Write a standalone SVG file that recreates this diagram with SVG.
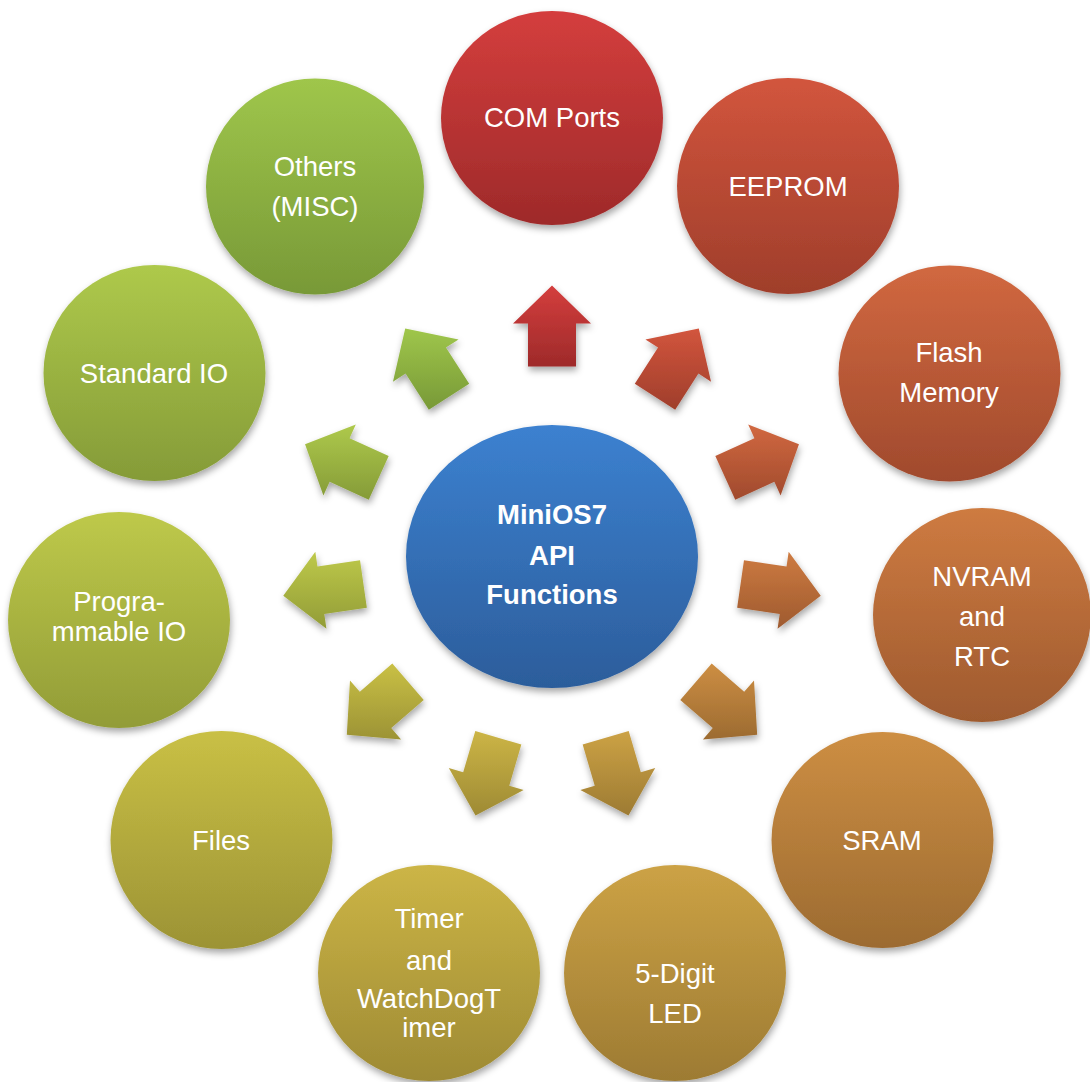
<svg xmlns="http://www.w3.org/2000/svg" width="1090" height="1082" viewBox="0 0 1090 1082">
<style>
text{font-family:"Liberation Sans",Arial,sans-serif;font-size:27.5px;fill:#ffffff;text-anchor:middle}
.b{font-weight:bold}
.sh{filter:url(#ds)}
</style>
<defs>
<filter id="ds" x="-20%" y="-20%" width="140%" height="150%">
<feDropShadow dx="1" dy="4" stdDeviation="3.5" flood-color="#000" flood-opacity="0.35"/>
</filter>
<linearGradient id="g0" x1="0" y1="0" x2="0" y2="1"><stop offset="0" stop-color="#d43e3d"/><stop offset="1" stop-color="#9e2a2a"/></linearGradient>
<linearGradient id="g1" x1="0" y1="0" x2="0" y2="1"><stop offset="0" stop-color="#d2553d"/><stop offset="1" stop-color="#9f3e2b"/></linearGradient>
<linearGradient id="g2" x1="0" y1="0" x2="0" y2="1"><stop offset="0" stop-color="#d16840"/><stop offset="1" stop-color="#a04a2d"/></linearGradient>
<linearGradient id="g3" x1="0" y1="0" x2="0" y2="1"><stop offset="0" stop-color="#ce7b41"/><stop offset="1" stop-color="#9e5a2f"/></linearGradient>
<linearGradient id="g4" x1="0" y1="0" x2="0" y2="1"><stop offset="0" stop-color="#cd8e43"/><stop offset="1" stop-color="#9c6b31"/></linearGradient>
<linearGradient id="g5" x1="0" y1="0" x2="0" y2="1"><stop offset="0" stop-color="#cca245"/><stop offset="1" stop-color="#9d7b33"/></linearGradient>
<linearGradient id="g6" x1="0" y1="0" x2="0" y2="1"><stop offset="0" stop-color="#ccb546"/><stop offset="1" stop-color="#9e8a34"/></linearGradient>
<linearGradient id="g7" x1="0" y1="0" x2="0" y2="1"><stop offset="0" stop-color="#c9c045"/><stop offset="1" stop-color="#9c9335"/></linearGradient>
<linearGradient id="g8" x1="0" y1="0" x2="0" y2="1"><stop offset="0" stop-color="#bec94a"/><stop offset="1" stop-color="#929c37"/></linearGradient>
<linearGradient id="g9" x1="0" y1="0" x2="0" y2="1"><stop offset="0" stop-color="#aec94b"/><stop offset="1" stop-color="#859b38"/></linearGradient>
<linearGradient id="g10" x1="0" y1="0" x2="0" y2="1"><stop offset="0" stop-color="#9fc64b"/><stop offset="1" stop-color="#789937"/></linearGradient>
<linearGradient id="gc" x1="0" y1="0" x2="0" y2="1"><stop offset="0" stop-color="#3c81d0"/><stop offset="1" stop-color="#2c5d9b"/></linearGradient>
</defs>
<rect width="1090" height="1082" fill="#ffffff"/>
<g id="connectors" class="sh">
<polygon fill="url(#g0)" points="552,285.5 591,323.5 576,323.5 576,366.5 528,366.5 528,323.5 513,323.5"/>
<polygon fill="url(#g1)" points="698.79,328.6 711.05,381.65 698.43,373.55 675.18,409.72 634.8,383.76 658.05,347.59 645.43,339.49"/>
<polygon fill="url(#g2)" points="798.96,444.22 780.59,495.48 774.36,481.83 735.25,499.69 715.31,456.03 754.42,438.17 748.19,424.52"/>
<polygon fill="url(#g3)" points="820.74,595.63 777.57,628.83 779.7,613.99 737.14,607.87 743.98,560.35 786.54,566.47 788.67,551.63"/>
<polygon fill="url(#g4)" points="757.19,734.79 702.93,739.38 712.75,728.05 680.25,699.89 711.69,663.61 744.19,691.77 754.01,680.44"/>
<polygon fill="url(#g5)" points="628.49,815.5 580.36,790.03 594.75,785.8 582.64,744.54 628.7,731.02 640.81,772.28 655.2,768.05"/>
<polygon fill="url(#g6)" points="475.51,815.5 448.8,768.05 463.19,772.28 475.3,731.02 521.36,744.54 509.25,785.8 523.64,790.03"/>
<polygon fill="url(#g7)" points="346.81,734.79 401.07,739.38 391.25,728.05 423.75,699.89 392.31,663.61 359.81,691.77 349.99,680.44"/>
<polygon fill="url(#g8)" points="283.26,595.63 326.43,628.83 324.3,613.99 366.86,607.87 360.02,560.35 317.46,566.47 315.33,551.63"/>
<polygon fill="url(#g9)" points="305.04,444.22 323.41,495.48 329.64,481.83 368.75,499.69 388.69,456.03 349.58,438.17 355.81,424.52"/>
<polygon fill="url(#g10)" points="405.21,328.6 392.95,381.65 405.57,373.55 428.82,409.72 469.2,383.76 445.95,347.59 458.57,339.49"/>
</g>
<g id="center">
<ellipse class="sh" cx="552" cy="556.5" rx="146" ry="131.5" fill="url(#gc)"/>
<text class="b" x="552" y="524">MiniOS7</text>
<text class="b" x="552" y="565">API</text>
<text class="b" x="552" y="604">Functions</text>
</g>
<g id="com-ports">
<ellipse class="sh" cx="552" cy="118" rx="111" ry="107" fill="url(#g0)"/>
<text x="552" y="127">COM Ports</text>
</g>
<g id="eeprom">
<ellipse class="sh" cx="788" cy="186" rx="111" ry="108" fill="url(#g1)"/>
<text x="788" y="196">EEPROM</text>
</g>
<g id="flash-memory">
<ellipse class="sh" cx="949.5" cy="373.5" rx="111" ry="108" fill="url(#g2)"/>
<text x="949" y="362">Flash</text>
<text x="949" y="402">Memory</text>
</g>
<g id="nvram-rtc">
<ellipse class="sh" cx="982" cy="615" rx="109" ry="107" fill="url(#g3)"/>
<text x="982" y="586">NVRAM</text>
<text x="982" y="626">and</text>
<text x="982" y="666">RTC</text>
</g>
<g id="sram">
<ellipse class="sh" cx="882.5" cy="840" rx="111" ry="108" fill="url(#g4)"/>
<text x="882" y="850">SRAM</text>
</g>
<g id="five-digit-led">
<ellipse class="sh" cx="675" cy="973" rx="111" ry="108" fill="url(#g5)"/>
<text x="675" y="983">5-Digit</text>
<text x="675" y="1023">LED</text>
</g>
<g id="timer-watchdog">
<ellipse class="sh" cx="429" cy="973" rx="111" ry="108" fill="url(#g6)"/>
<text x="429" y="928">Timer</text>
<text x="429" y="970">and</text>
<text x="429" y="1008">WatchDogT</text>
<text x="429" y="1037">imer</text>
</g>
<g id="files">
<ellipse class="sh" cx="221.5" cy="840" rx="111" ry="109" fill="url(#g7)"/>
<text x="221" y="850">Files</text>
</g>
<g id="programmable-io">
<ellipse class="sh" cx="119" cy="620" rx="111" ry="108" fill="url(#g8)"/>
<text x="119" y="611">Progra-</text>
<text x="119" y="641">mmable IO</text>
</g>
<g id="standard-io">
<ellipse class="sh" cx="154.5" cy="373" rx="111" ry="108" fill="url(#g9)"/>
<text x="154" y="383">Standard IO</text>
</g>
<g id="others-misc">
<ellipse class="sh" cx="315" cy="186.5" rx="109" ry="108" fill="url(#g10)"/>
<text x="315" y="176">Others</text>
<text x="315" y="216">(MISC)</text>
</g>
</svg>
